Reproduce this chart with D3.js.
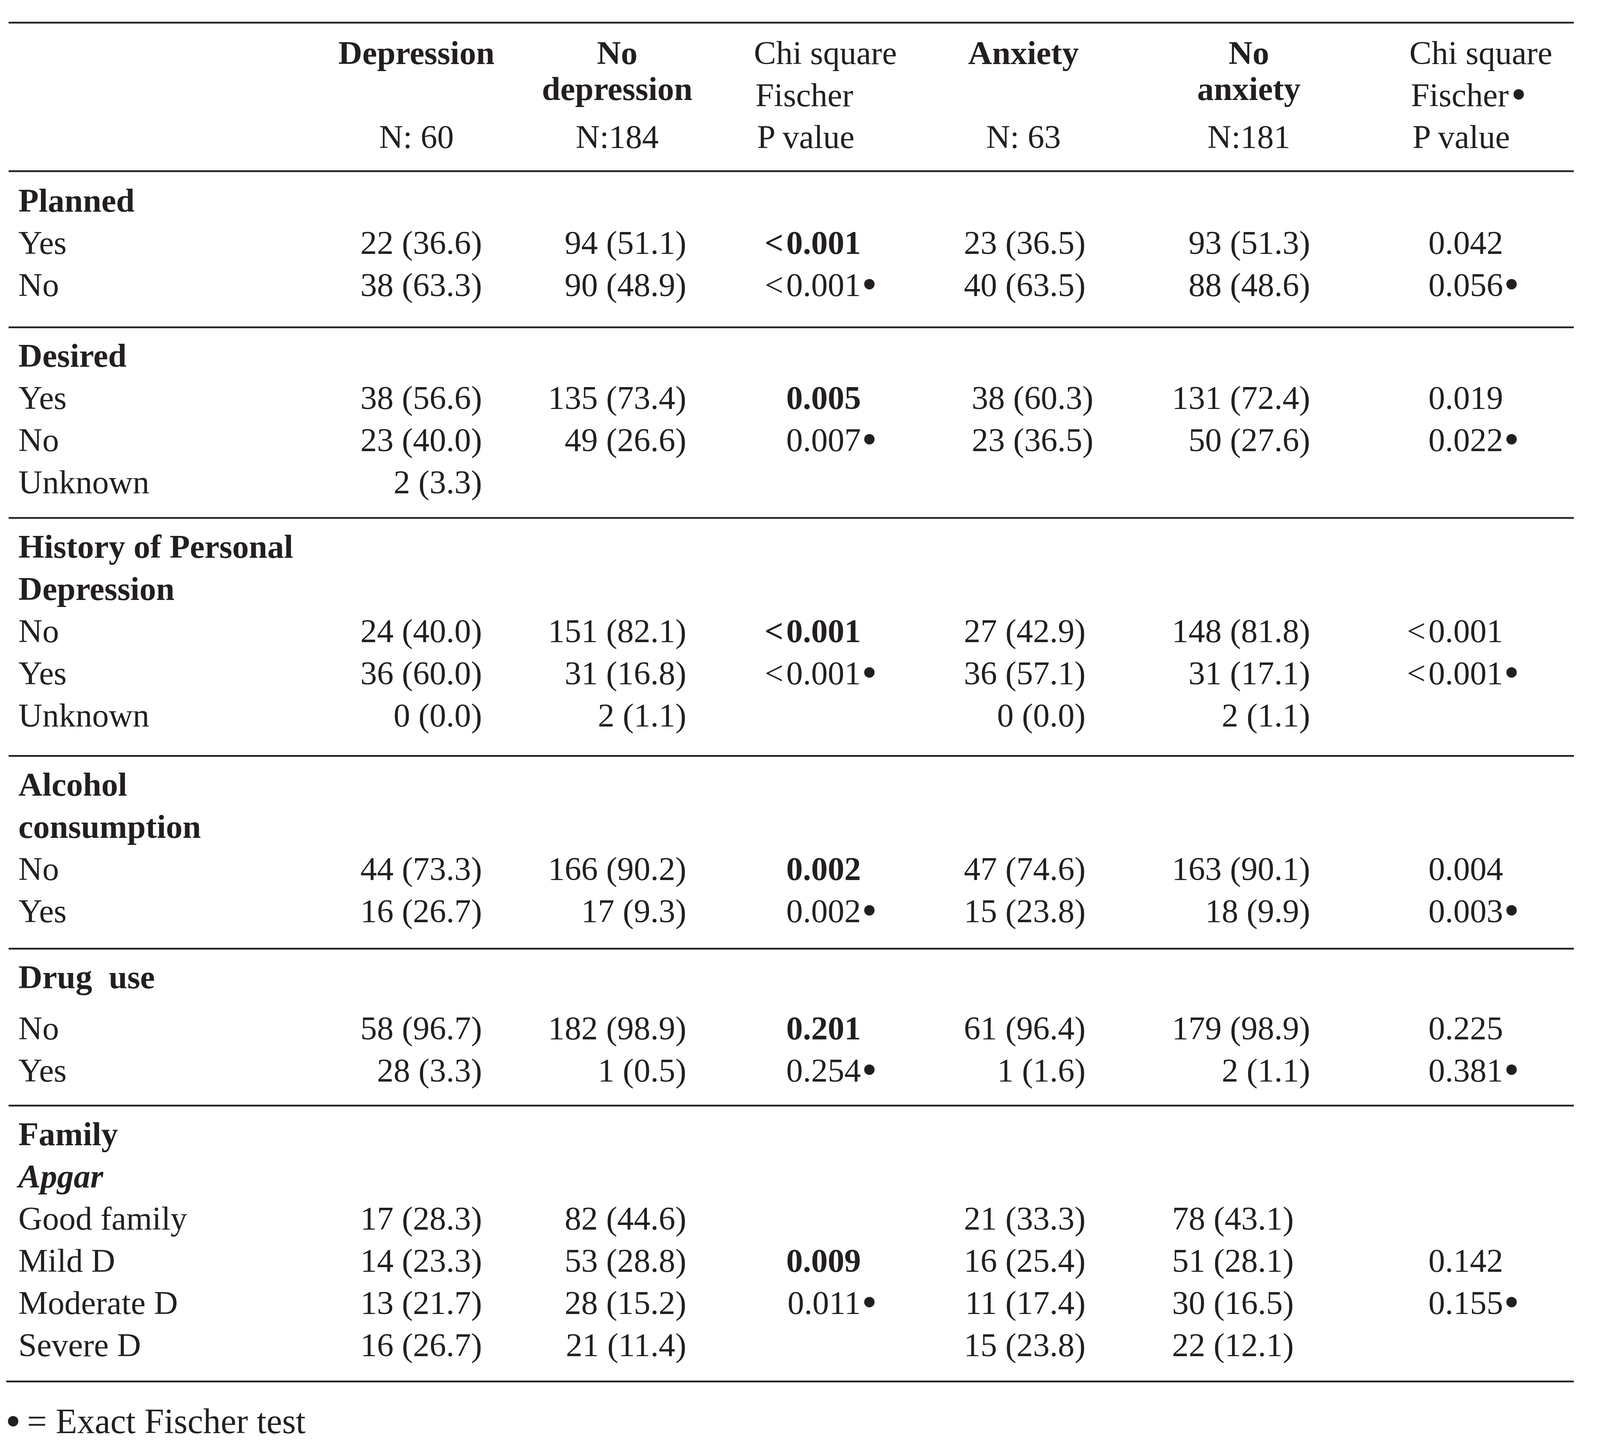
<!DOCTYPE html>
<html>
<head>
<meta charset="utf-8">
<script src="https://cdn.jsdelivr.net/npm/d3@7.9.0/dist/d3.min.js"></script>
<style>
  html, body { margin: 0; padding: 0; background: #fff; }
  svg text { font-family: "Liberation Serif", "Times New Roman", serif; fill: #231f20; white-space: pre; }
</style>
</head>
<body>
<svg id="chart" width="4108" height="3725"></svg>
<script>
// header
const groupHeads = [["Depression"], ["No", "depression"], ["Anxiety"], ["No", "anxiety"]];
const groupN = ["N: 60", "N:184", "N: 63", "N:181"];
const testHead = ["Chi square", "Fischer", "P value"];

// row stubs
const sectionTitles = [["Planned"], ["Desired"], ["History of Personal", "Depression"], ["Alcohol", "consumption"], ["Drug  use"], ["Family"]];
const sectionSubtitles = [null, null, null, null, null, "Apgar"];
const rowLabels = [
  ["Yes", "No"],
  ["Yes", "No", "Unknown"],
  ["No", "Yes", "Unknown"],
  ["No", "Yes"],
  ["No", "Yes"],
  ["Good family", "Mild D", "Moderate D", "Severe D"]
];

// n (%) per group
const depression = [
  ["22 (36.6)", "38 (63.3)"],
  ["38 (56.6)", "23 (40.0)", "2 (3.3)"],
  ["24 (40.0)", "36 (60.0)", "0 (0.0)"],
  ["44 (73.3)", "16 (26.7)"],
  ["58 (96.7)", "28 (3.3)"],
  ["17 (28.3)", "14 (23.3)", "13 (21.7)", "16 (26.7)"]
];
const noDepression = [
  ["94 (51.1)", "90 (48.9)"],
  ["135 (73.4)", "49 (26.6)", ""],
  ["151 (82.1)", "31 (16.8)", "2 (1.1)"],
  ["166 (90.2)", "17 (9.3)"],
  ["182 (98.9)", "1 (0.5)"],
  ["82 (44.6)", "53 (28.8)", "28 (15.2)", "21 (11.4)"]
];
const anxiety = [
  ["23 (36.5)", "40 (63.5)"],
  ["38 (60.3)", "23 (36.5)", ""],
  ["27 (42.9)", "36 (57.1)", "0 (0.0)"],
  ["47 (74.6)", "15 (23.8)"],
  ["61 (96.4)", "1 (1.6)"],
  ["21 (33.3)", "16 (25.4)", "11 (17.4)", "15 (23.8)"]
];
const noAnxiety = [
  ["93 (51.3)", "88 (48.6)"],
  ["131 (72.4)", "50 (27.6)", ""],
  ["148 (81.8)", "31 (17.1)", "2 (1.1)"],
  ["163 (90.1)", "18 (9.9)"],
  ["179 (98.9)", "2 (1.1)"],
  ["78 (43.1)", "51 (28.1)", "30 (16.5)", "22 (12.1)"]
];

// p values
const chiDepression = ["<0.001", "0.005", "<0.001", "0.002", "0.201", "0.009"];
const fisherDepression = ["<0.001", "0.007", "<0.001", "0.002", "0.254", "0.011"];
const chiAnxiety = ["0.042", "0.019", "<0.001", "0.004", "0.225", "0.142"];
const fisherAnxiety = ["0.056", "0.022", "<0.001", "0.003", "0.381", "0.155"];
const pRowIndex = [0, 0, 0, 0, 0, 1];

const footnote = "= Exact Fischer test";

// ---- layout ----
const svg = d3.select('#chart');
const INK = '#231f20';
const FS = 85;
const BULLET_FS = 112;
const LABEL_X = 47;
const RULE_X0 = 22, RULE_X1 = 4029;

const valueCols = ['dep', 'noDep', 'anx', 'noAnx'];
const colData = { dep: depression, noDep: noDepression, anx: anxiety, noAnx: noAnxiety };
const xRight = d3.scaleOrdinal()
  .domain(['dep', 'noDep', 'chiDep', 'anx', 'noAnx', 'chiAnx'])
  .range([1234, 1757, 2204, 2779, 3354, 3848]);
const xHead = d3.scaleOrdinal().domain(valueCols).range([1066, 1580, 2620, 3197]);
const xTest = d3.scaleOrdinal().domain(['chiDep', 'chiAnx']).range([1930, 3608]);

// small misalignments in the printed table
const nudge = { 1: { anx: 20 }, 5: { noAnx: -42 } };
const titleGap = [0, 0, 0, 0, 0.21, 0];
const ruleGap = [0.74, 0.58, 0.70, 0.63, 0.57, 0.60];
const START_GAP = 0.94;

const hy = d3.scaleLinear().domain([0, 1]).range([164, 271.5]);
const y = d3.scaleLinear().domain([0, 1]).range([542, 650]);

function txt(x, yy, s, anchor, weight, style) {
  return svg.append('text')
    .attr('x', x).attr('y', yy)
    .attr('text-anchor', anchor || 'start')
    .attr('font-size', FS)
    .attr('font-weight', weight || 'normal')
    .attr('font-style', style || 'normal')
    .text(s);
}

// "<0.001" gets a little air after the sign, like the print
function pval(x, yy, s, weight) {
  const t = txt(x, yy, '', 'end', weight);
  if (s.startsWith('<')) {
    t.append('tspan').text('<');
    t.append('tspan').attr('dx', 7).text(s.slice(1));
  } else {
    t.text(s);
  }
  return t;
}

function bullet(sel, dx) {
  return sel.append('tspan').attr('dx', dx).attr('dy', 7)
    .attr('font-size', BULLET_FS).text('\u2022');
}

function rule(yy, x0) {
  svg.append('line')
    .attr('x1', x0 || RULE_X0).attr('x2', RULE_X1)
    .attr('y1', yy).attr('y2', yy)
    .attr('stroke', INK).attr('stroke-width', 4.5);
}

// header
rule(hy(-0.987));
valueCols.forEach((c, i) => {
  groupHeads[i].forEach((s, j) => txt(xHead(c), hy(j * 0.86), s, 'middle', 'bold'));
  txt(xHead(c), hy(2), groupN[i], 'middle');
});
['chiDep', 'chiAnx'].forEach((c, k) => {
  testHead.forEach((s, j) => {
    const t = txt(xTest(c) + j * 4, hy(j), s, 'start');
    if (k === 1 && j === 1) bullet(t, 6);
  });
});
rule(hy(2.55));

// body
let slot = 0;
sectionTitles.forEach((titles, si) => {
  titles.forEach(s => { txt(LABEL_X, y(slot), s, 'start', 'bold'); slot += 1; });
  if (sectionSubtitles[si]) { txt(LABEL_X, y(slot), sectionSubtitles[si], 'start', 'bold', 'italic'); slot += 1; }
  slot += titleGap[si];

  rowLabels[si].forEach((lab, ri) => {
    const yy = y(slot);
    txt(LABEL_X, yy, lab);
    valueCols.forEach(c => {
      const v = colData[c][si][ri];
      if (!v) return;
      const dx = (nudge[si] && nudge[si][c]) || 0;
      txt(xRight(c) + dx, yy, v, 'end');
    });
    const pr = pRowIndex[si];
    if (ri === pr) {
      pval(xRight('chiDep'), yy, chiDepression[si], 'bold');
      pval(xRight('chiAnx'), yy, chiAnxiety[si]);
    }
    if (ri === pr + 1) {
      pval(xRight('chiDep'), yy, fisherDepression[si]);
      bullet(txt(xRight('chiDep') + 2, yy, '', 'start'), 0);
      pval(xRight('chiAnx'), yy, fisherAnxiety[si]);
      bullet(txt(xRight('chiAnx') + 2, yy, '', 'start'), 0);
    }
    slot += 1;
  });
  slot -= 1;
  const last = si === sectionTitles.length - 1;
  slot += ruleGap[si];
  rule(y(slot), last ? 16 : RULE_X0);
  slot += START_GAP;
});

// footnote
const fn = svg.append('text')
  .attr('x', 14).attr('y', y(slot - START_GAP + 1.22))
  .attr('font-size', 90);
fn.append('tspan').attr('dy', 7).attr('font-size', BULLET_FS).text('\u2022');
fn.append('tspan').attr('dy', -7).attr('dx', 16).text(footnote);
</script>
</body>
</html>
